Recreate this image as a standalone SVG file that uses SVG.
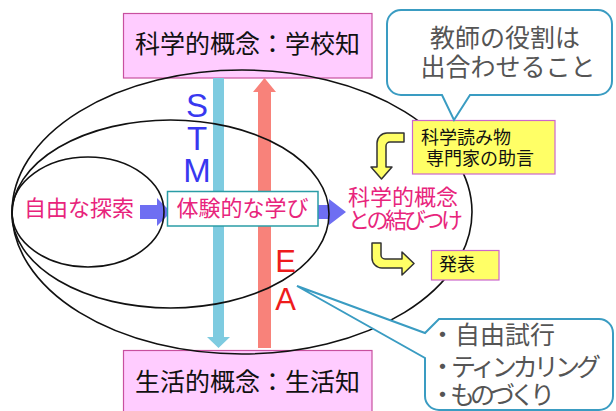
<svg xmlns="http://www.w3.org/2000/svg" width="616" height="411" viewBox="0 0 616 411">
<style>
.jp{font-family:"Noto Sans CJK JP","Noto Sans CJK SC",sans-serif}
.pink{fill:#FFCCFF;stroke:#C8509F;stroke-width:1.2}
.ell{fill:none;stroke:#111;stroke-width:1.6}
.call{fill:#fff;stroke:#3A9CC2;stroke-width:2}
.yel{fill:#FFFF66;stroke:#CC66CC;stroke-width:1.2}
.mag{fill:#E8247C;font-size:22px}
.grey{fill:#555;font-size:25px}
.lat{font-family:"Liberation Sans",Arial,sans-serif}
.yarr{fill:#FFFF66;stroke:#333;stroke-width:1.5;stroke-linejoin:round}
.barr{fill:#6E6EF2}
</style>
<g id="school">
<rect class="pink" x="123.5" y="13.5" width="248.5" height="64.5"/>
<text class="jp" x="247.5" y="53" font-size="25" text-anchor="middle" fill="#111">科学的概念：学校知</text>
</g>
<g id="life">
<rect class="pink" x="123.5" y="350.5" width="248.5" height="65"/>
<text class="jp" x="247.5" y="391" font-size="25" text-anchor="middle" fill="#111">生活的概念：生活知</text>
</g>
<g id="connectors">
<path d="M213 78 H224 V337 H230 L218.5 348 L207 337 H213 Z" fill="#7ECBE0"/>
<path d="M258 348 H271 V92 H276 L264.5 78 L253 92 H258 Z" fill="#F8827A"/>
<path class="barr" d="M140 205 H157 V198 L171 212 L157 226 V219 H140 Z"/>
<path class="barr" d="M312 205 H329 V199 L346 212 L329 225 V219 H312 Z"/>
<path class="yarr" d="M404 133 L387 133 A10 10 0 0 0 377 143 L377 167 L371 167 L381.5 179 L392 167 L386 167 L386 146 A4 4 0 0 1 390 142 L404 142 Z"/>
<path class="yarr" d="M372 243 L381 243 L381 255 A4 4 0 0 0 385 259 L402 259 L402 252 L414 263.5 L402 275 L402 268 L382 268 A10 10 0 0 1 372 258 Z"/>
</g>
<g id="ellipses">
<ellipse class="ell" cx="88" cy="212" rx="76" ry="55"/>
<ellipse class="ell" cx="170.5" cy="214" rx="158.5" ry="94"/>
<ellipse class="ell" cx="242" cy="212" rx="230" ry="142"/>
</g>
<g id="stm" class="lat" fill="#3838F0" font-size="33" text-anchor="middle">
<text x="197" y="117">S</text>
<text x="197" y="150">T</text>
<text x="197" y="182">M</text>
</g>
<g id="ea" class="lat" fill="#EE1C1C" font-size="31" text-anchor="middle">
<text x="285.5" y="272">E</text>
<text x="285.5" y="310">A</text>
</g>
<g id="explore">
<text class="jp mag" x="79" y="216" text-anchor="middle">自由な探索</text>
</g>
<g id="experience">
<rect x="167.5" y="191.5" width="150.5" height="34.5" fill="#fff" stroke="#2A9DA6" stroke-width="1.5"/>
<text class="jp mag" x="242.5" y="216" text-anchor="middle">体験的な学び</text>
</g>
<g id="link">
<text class="jp mag" x="348" y="205" font-size="21">科学的概念</text>
<text class="jp mag" x="348" y="228" font-size="21" textLength="115">との結びつけ</text>
</g>
<g id="reading">
<rect class="yel" x="412.5" y="120.5" width="142.5" height="53.5"/>
<text class="jp" x="421" y="144" font-size="18" fill="#111">科学読み物</text>
<text class="jp" x="426" y="165" font-size="18" fill="#111">専門家の助言</text>
</g>
<g id="present">
<rect class="yel" x="431.5" y="250.5" width="67.5" height="29.5"/>
<text class="jp" x="439" y="271" font-size="18" fill="#111">発表</text>
</g>
<g id="teacher">
<path class="call" d="M402 10 H598 A14 14 0 0 1 612 24 V81 A14 14 0 0 1 598 95 H470 L454 120 L442 95 H401 A14 14 0 0 1 387 81 V24 A14 14 0 0 1 401 10 Z"/>
<text class="jp grey" x="505" y="47" text-anchor="middle" font-size="26">教師の役割は</text>
<text class="jp grey" x="508" y="76" text-anchor="middle" font-size="25">出合わせること</text>
</g>
<g id="activities">
<path class="call" d="M439 319 H599 A14 14 0 0 1 613 333 V396 A14 14 0 0 1 599 410 H439 A14 14 0 0 1 425 396 V358 L297 286 L425 333 Z"/>
<text class="jp grey" x="430" y="344" textLength="125">・自由試行</text>
<text class="jp grey" x="430" y="376" textLength="171">・ティンカリング</text>
<text class="jp grey" x="430" y="404" textLength="125">・ものづくり</text>
</g>
</svg>
